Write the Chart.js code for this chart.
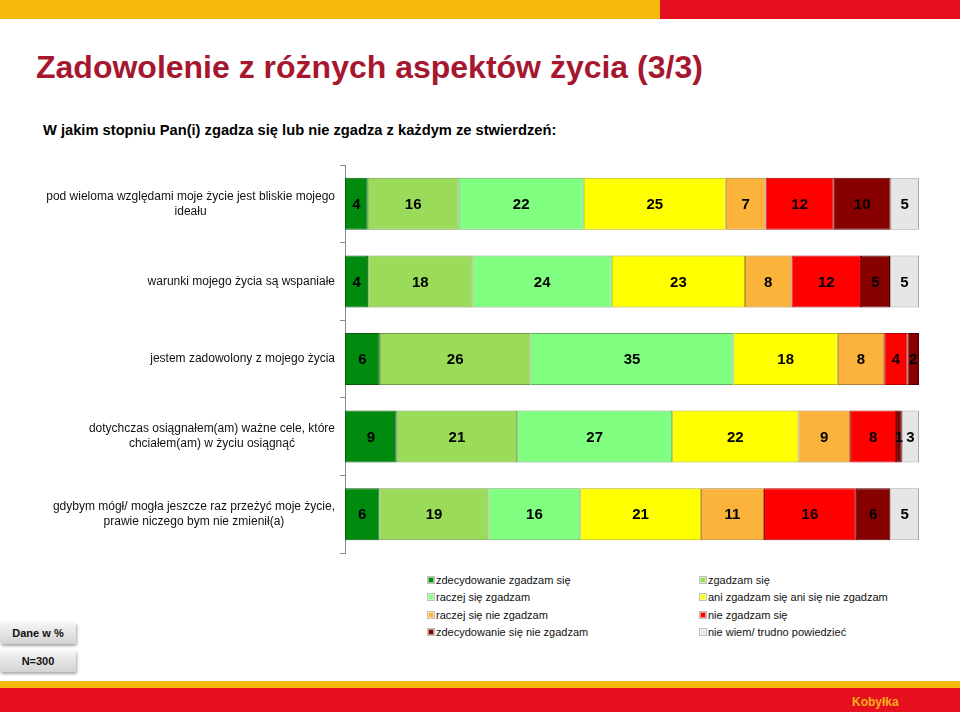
<!DOCTYPE html>
<html>
<head>
<meta charset="utf-8">
<script src="https://cdn.jsdelivr.net/npm/chart.js@4/dist/chart.umd.min.js"></script>
<style>
  html, body { margin: 0; padding: 0; background: #fff; }
  body { width: 960px; height: 712px; position: relative; overflow: hidden; font-family: Arial, "Liberation Sans", sans-serif; }
  .bar-top-y { position: absolute; left: 0; top: 0; width: 660px; height: 19px; background: #F6BA0E; }
  .bar-top-r { position: absolute; left: 660px; top: 0; width: 300px; height: 19px; background: #E50F1E; }
  .title { position: absolute; left: 36px; top: 51px; font-size: 32px; line-height: 1; font-weight: bold; color: #A6172F; white-space: nowrap; }
  .subtitle { position: absolute; left: 43px; top: 123px; font-size: 14.7px; line-height: 1; font-weight: bold; color: #000; white-space: nowrap; }
  #chart-wrap { position: absolute; left: 0; top: 160px; width: 960px; height: 400px; }
  .legend-item { position: absolute; font-size: 11px; line-height: 1; color: #111; white-space: nowrap; }
  .legend-item i { display: inline-block; width: 6px; height: 6px; margin-right: 2px; vertical-align: 1px; box-sizing: border-box; border: 1px solid rgba(255,255,255,0.55); outline: 0.5px solid rgba(0,0,0,0.25); }
  .info-box { position: absolute; left: 0; width: 76px; height: 22px; font-size: 11px; font-weight: bold; line-height: 22px; text-align: center; color: #111;
    background: linear-gradient(#f7f7f7, #d2d2d2); box-shadow: 1px 2px 3px rgba(0,0,0,0.35); border-radius: 2px; }
  .foot-y { position: absolute; left: 0; top: 681px; width: 960px; height: 7px; background: #F6BA0E; }
  .foot-r { position: absolute; left: 0; top: 688px; width: 960px; height: 24px; background: #E50F1E; }
  .foot-text { position: absolute; left: 852px; top: 696px; font-size: 12px; font-weight: bold; line-height: 1; color: #F6B019; }
</style>
</head>
<body>
<div class="bar-top-y"></div>
<div class="bar-top-r"></div>
<div class="title">Zadowolenie z różnych aspektów życia (3/3)</div>
<div class="subtitle">W jakim stopniu Pan(i) zgadza się lub nie zgadza z każdym ze stwierdzeń:</div>
<div id="chart-wrap"><canvas id="chart-bars"></canvas></div>
<div id="legend"></div>
<div class="info-box" style="top: 622px;">Dane w %</div>
<div class="info-box" style="top: 650px;">N=300</div>
<div class="foot-y"></div>
<div class="foot-r"></div>
<div class="foot-text">Kobyłka</div>

<script>
'use strict';

// Categories (statements), one per bar row
var categories = [
  ['pod wieloma względami moje życie jest bliskie mojego', 'ideału'],
  ['warunki mojego życia są wspaniałe'],
  ['jestem zadowolony z mojego życia'],
  ['dotychczas osiągnałem(am) ważne cele, które', 'chciałem(am) w życiu osiągnąć'],
  ['gdybym mógł/ mogła jeszcze raz przeżyć moje życie,', 'prawie niczego bym nie zmienił(a)']
];

// Series values, in %
var zdecydowanieZgadzam = [4, 4, 6, 9, 6];
var zgadzam             = [16, 18, 26, 21, 19];
var raczejZgadzam       = [22, 24, 35, 27, 16];
var aniAni              = [25, 23, 18, 22, 21];
var raczejNieZgadzam    = [7, 8, 8, 9, 11];
var nieZgadzam          = [12, 12, 4, 8, 16];
var zdecydowanieNie     = [10, 5, 2, 1, 6];
var nieWiem             = [5, 5, 0, 3, 5];

var seriesNames = [
  'zdecydowanie zgadzam się', 'zgadzam się',
  'raczej się zgadzam', 'ani zgadzam się ani się nie zgadzam',
  'raczej się nie zgadzam', 'nie zgadzam się',
  'zdecydowanie się nie zgadzam', 'nie wiem/ trudno powiedzieć'
];
var seriesValues = [zdecydowanieZgadzam, zgadzam, raczejZgadzam, aniAni,
                    raczejNieZgadzam, nieZgadzam, zdecydowanieNie, nieWiem];
var seriesColors = ['#008A0E', '#9BDB5A', '#80FF80', '#FFFF00', '#FCB33C', '#FF0000', '#870000', '#E6E6E6'];
var seriesBorders = ['#0A5A10', '#6E9A45', '#5FAF60', '#B5B500', '#B07C2A', '#B00000', '#4E0000', '#A8A8A8'];


// 100% stacked: each row is scaled to its own total
var rowTotals = categories.map(function(c, i) {
  return seriesValues.reduce(function(s, arr) { return s + arr[i]; }, 0);
});

var datasets = seriesValues.map(function(arr, k) {
  return {
    label: seriesNames[k],
    raw: arr,
    data: arr.map(function(v, i) { return v / rowTotals[i] * 100; }),
    backgroundColor: seriesColors[k],
    borderColor: seriesBorders[k],
    borderWidth: 1,
    borderSkipped: false,
    barPercentage: 0.67,
    categoryPercentage: 1
  };
});


// Value labels in the middle of every segment
var segmentLabels = {
  id: 'segmentLabels',
  afterDatasetsDraw: function(chart) {
    var ctx = chart.ctx;
    ctx.save();
    ctx.font = 'bold 15px Arial, "Liberation Sans", sans-serif';
    ctx.fillStyle = '#000';
    ctx.textAlign = 'center';
    ctx.textBaseline = 'middle';
    chart.data.datasets.forEach(function(ds, k) {
      chart.getDatasetMeta(k).data.forEach(function(bar, i) {
        var v = ds.raw[i];
        if (!v) return;
        var cx = (bar.x + bar.base) / 2;
        ctx.fillText(String(v), cx, bar.y + 1);
      });
    });
    ctx.restore();
  }
};

// Category labels: right edge fixed, lines centred on each other
var rowLabels = {
  id: 'rowLabels',
  afterDraw: function(chart) {
    var ctx = chart.ctx;
    var yScale = chart.scales.y;
    var right = chart.chartArea.left - 10;
    ctx.save();
    ctx.font = '12px Arial, "Liberation Sans", sans-serif';
    ctx.fillStyle = '#111';
    ctx.textAlign = 'center';
    ctx.textBaseline = 'middle';
    categories.forEach(function(lines, i) {
      var y = yScale.getPixelForValue(i);
      var widest = Math.max.apply(null, lines.map(function(l) { return ctx.measureText(l).width; }));
      var cx = right - widest / 2;
      var lh = 15;
      var y0 = y - (lines.length - 1) * lh / 2;
      lines.forEach(function(l, j) { ctx.fillText(l, cx, y0 + j * lh); });
    });
    ctx.restore();
  }
};


new Chart(document.getElementById('chart-bars'), {
  type: 'bar',
  data: {
    labels: categories.map(function(c) { return c.join(' '); }),
    datasets: datasets
  },
  options: {
    indexAxis: 'y',
    responsive: true,
    maintainAspectRatio: false,
    animation: false,
    layout: { padding: { top: 5, bottom: 7, right: 41, left: 0 } },
    plugins: {
      legend: { display: false },
      tooltip: { enabled: false }
    },
    scales: {
      x: {
        stacked: true,
        min: 0,
        max: 100,
        display: false
      },
      y: {
        stacked: true,
        afterFit: function(scale) { scale.width = 345; },
        ticks: { display: false },
        border: { display: true, color: '#8c8c8c' },
        grid: { display: true, drawOnChartArea: false, drawTicks: true, tickLength: 5, offset: true, color: '#8c8c8c' }
      }
    }
  },
  plugins: [segmentLabels, rowLabels]
});


// Legend, two columns
var legend = document.getElementById('legend');
var legendCols = [428, 700];
var legendRows = [575, 592, 610, 627];
seriesNames.forEach(function(name, k) {
  var el = document.createElement('div');
  el.className = 'legend-item';
  el.style.left = legendCols[k % 2] + 'px';
  el.style.top = legendRows[Math.floor(k / 2)] + 'px';
  el.innerHTML = '<i style="background:' + seriesColors[k] + '"></i>' + name;
  legend.appendChild(el);
});
</script>
</body>
</html>
